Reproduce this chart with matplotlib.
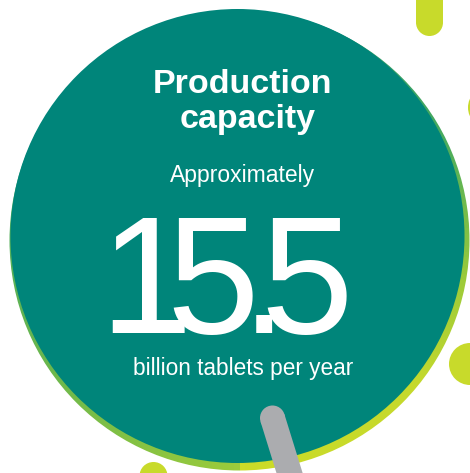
import numpy as np
import matplotlib.pyplot as plt
from matplotlib.patches import Circle, Polygon
from matplotlib.colors import LinearSegmentedColormap

W, H = 470, 473

# texts / values of the badge
title_lines = ["Production", "capacity"]
pre_label = "Approximately"
value = "15.5"
unit_label = "billion tablets per year"

TEAL = "#00857a"
LIME = "#c8da2b"
GREY = "#abacaf"
FONT = "Liberation Sans"
NARROW = ["Liberation Sans Narrow", "Liberation Sans"]


def capsule(ax, p0, p1, r, color, z):
    p0 = np.array(p0, float)
    p1 = np.array(p1, float)
    d = (p1 - p0) / np.linalg.norm(p1 - p0)
    n = np.array([-d[1], d[0]])
    pts = [p0 + n * r, p1 + n * r, p1 - n * r, p0 - n * r]
    ax.add_patch(Polygon(pts, closed=True, fc=color, ec="none", zorder=z))
    ax.add_patch(Circle(p0, r, fc=color, ec="none", zorder=z))
    ax.add_patch(Circle(p1, r, fc=color, ec="none", zorder=z))


fig = plt.figure(figsize=(W / 100, H / 100), dpi=100)
ax = fig.add_axes([0, 0, 1, 1])
ax.set_xlim(0, W)
ax.set_ylim(H, 0)
ax.axis("off")

# gradient ring behind the disc (conic gradient)
rcx, rcy, rr = 239.5, 240.5, 230
ys, xs = np.mgrid[0:H, 0:W] + 0.5
ang = np.degrees(np.arctan2(ys - rcy, xs - rcx))
t = ((ang - 90) % 360) / 360
ring_cmap = LinearSegmentedColormap.from_list(
    "ring",
    [(0, "#9ccb3b"), (0.15, "#6db84c"), (0.27, "#4fae5e"), (0.5, "#178c76"),
     (0.68, "#4aac5e"), (0.78, "#9dcb3a"), (0.86, "#c5d92d"), (1, "#ccdc28")])
im = ax.imshow(ring_cmap(t), extent=[0, W, H, 0], zorder=1,
               interpolation="nearest", aspect="auto")
im.set_clip_path(Circle((rcx, rcy), rr, transform=ax.transData))

# main teal disc
ax.add_patch(Circle((237.5, 236), 227, fc=TEAL, ec="none", zorder=2))

# decorations
capsule(ax, (429.5, -30), (429.5, 22.5), 13.5, LIME, 3)
capsule(ax, (272.5, 418), (272.5 + 0.31 * 90, 508), 12.5, GREY, 4)
ax.add_patch(Circle((153.5, 476), 14, fc=LIME, ec="none", zorder=3))
ax.add_patch(Circle((470, 364), 21, fc=LIME, ec="none", zorder=3))
ax.add_patch(Circle((489, 107.5), 21, fc=LIME, ec="none", zorder=3))

# texts
txt = dict(color="white", ha="center", va="baseline", zorder=5)
ax.text(242.5, 93, title_lines[0], fontsize=24.5, weight="bold", family=FONT, **txt)
ax.text(247.5, 128, title_lines[1], fontsize=24.5, weight="bold", family=FONT, **txt)
ax.text(243, 182, pre_label, fontsize=16.5, family=FONT, **txt)
for ch, cx in zip(value, [146, 213, 264, 307]):
    ax.text(cx, 333, ch, fontsize=120, family=NARROW, **txt)
ax.text(243, 375, unit_label, fontsize=16.3, family=FONT, **txt)

fig.savefig("out.png", dpi=100, facecolor="white")
